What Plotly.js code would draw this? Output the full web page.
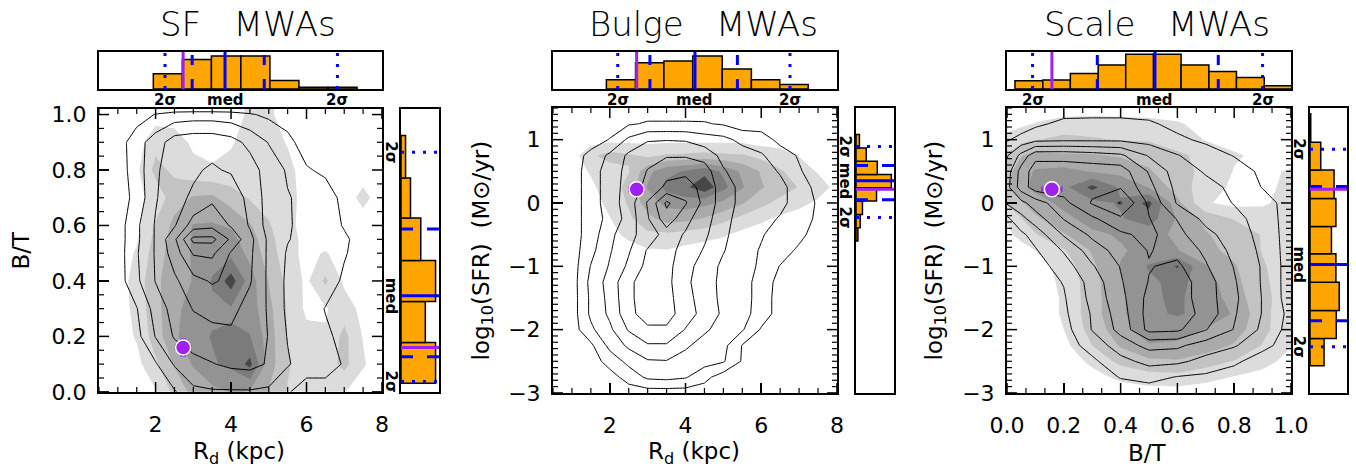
<!DOCTYPE html>
<html><head><meta charset="utf-8">
<script src="https://cdn.plot.ly/plotly-3.0.1.min.js"></script>
<style>html,body{margin:0;padding:0;background:#fff}#chart{width:1356px;height:471px}</style>
</head><body><div id="chart"></div>
<script>
// ---------------- DATA ----------------
const panelTitles = ['SF\u00a0\u00a0\u00a0MWAs', 'Bulge\u00a0\u00a0\u00a0MWAs', 'Scale\u00a0\u00a0\u00a0MWAs'];

// Panel 1 (SF MWAs): B/T vs R_d
const sfX = [0.5,1,1.5,2,2.5,3,3.5,4,4.5,5,5.5,6,6.5,7,7.5,8];
const sfY = [0,0.1,0.2,0.3,0.4,0.5,0.55,0.6,0.7,0.8,0.9,1.0,1.02];
const sfLineZ = [
 [0,0,0,0,0.4,1.3,1.4,1.4,1.4,1.3,0.6,0,0,0,0,0],
 [0,0,0,0.4,1.6,2.2,2.45,2.7,2.8,2.4,1.6,1.0,1.0,0.4,0,0],
 [0,0,0.2,1.55,2.6,3.0,3.2,3.3,3.2,2.45,1.45,1.1,0.7,0.2,0,0],
 [0,0,0.45,1.9,2.9,3.55,3.8,3.8,3.1,2.4,1.3,1.1,0.45,0.1,0,0],
 [0,0,1.3,2.55,3.3,4.2,4.6,4.3,3.6,2.3,1.3,1.2,1.1,0.3,0,0],
 [0,0,1.4,2.6,4.0,5.6,5.7,4.4,3.7,2.3,1.4,1.2,1.1,0.6,0,0],
 [0,0,1.3,2.6,4.3,6.8,6.8,5.3,3.8,2.3,1.55,1.2,1.1,0.7,0,0],
 [0,0,1.3,2.6,3.4,5.0,5.2,4.4,3.4,2.1,1.6,1.2,1.1,0.4,0,0],
 [0,0,0.8,2.4,3.3,3.6,4.3,4.1,3.2,2.1,1.55,1.3,1.0,0.2,0,0],
 [0,0,1.0,2.3,3.2,3.4,3.6,3.4,3.0,2.0,1.4,0.6,0.3,0,0,0],
 [0,0,1.1,2.0,3.0,3.2,3.2,2.9,2.2,1.45,0.8,0,0,0,0,0],
 [0,0,0,0.55,0.9,1.0,1.0,0.9,0.6,0.3,0,0,0,0,0,0],
 [0,0,0,0,0,0,0,0,0,0,0,0,0,0,0,0]
];
const sfFillZ = [
 [0,0,0,0.4,1.8,2.8,3.2,3.55,3.4,2.45,1.45,0.8,0.55,0.55,0,0],
 [0,0,0.2,1.3,2.6,3.6,4.4,4.7,5.8,3.0,1.6,1.0,1.0,1.8,0.6,0],
 [0,0,0.6,2.0,3.3,4.2,4.55,4.6,4.55,3.0,1.45,0.8,0.6,1.8,0.45,0],
 [0,0,0.8,2.2,3.2,4.0,4.3,4.4,4.0,2.8,1.4,0.3,0.4,1.0,0.2,0],
 [0,0,0.9,2.3,3.0,3.55,4.6,6.0,4.0,2.45,1.2,0.3,1.7,0.3,0,0],
 [0,0,0.6,2.0,3.0,3.6,4.0,4.2,3.2,2.0,0.9,0.2,0.6,0,0,0],
 [0,0,0.4,1.8,2.9,3.6,3.8,3.8,3.0,1.8,0.9,0.2,0,0,0,0],
 [0,0,0.2,1.6,2.8,3.55,3.6,3.4,2.6,1.6,0.8,0.1,0,0,0,0],
 [0,0,0.2,0.9,2.0,2.6,2.7,2.0,1.4,1.1,0.8,0.2,0,0,0.8,0],
 [0,0,0.3,1.8,1.3,0.8,0.6,0.8,1.0,1.0,0.7,0.2,0,0,0,0],
 [0,0,0,1.2,1.0,0.3,0.2,0.4,0.9,0.8,0.45,0,0,0,0,0],
 [0,0,0,0,0,0,0,0,0.7,0.7,0,0,0,0,0,0],
 [0,0,0,0,0,0,0,0,0.7,0.7,0,0,0,0,0,0]
];
const sfTopEdges = [1.94,2.71,3.48,4.26,5.03,5.80,6.57,7.34];
const sfTopHeights = [0.41,0.80,0.89,0.89,0.23,0.05,0.05];
const sfRightEdges = [0.031,0.178,0.326,0.474,0.627,0.771,0.924];
const sfRightWidths = [0.91,0.64,0.91,0.52,0.25,0.12];
const sfXStats = [2.25,2.97,3.84,4.88,6.82];     // -2sig, -1sig, median, +1sig, +2sig
const sfYStats = [0.037,0.127,0.347,0.587,0.864];
const sfMW = {x:[2.73], y:[0.16], ex:[0.2], ey:[0.03]};

// Panel 2 (Bulge MWAs): log SFR vs R_d
const buX = [0.5,1,1.5,2,2.5,3,3.5,4,4.5,5,5.5,6,6.5,7,7.5,8];
const buY = [-3,-2.75,-2.5,-2.25,-2,-1.75,-1.5,-1.25,-1,-0.75,-0.5,-0.25,0,0.25,0.5,0.75,1,1.25,1.5];
const buLineZ = [
 [0,0,0,0,0,0,0,0,0,0,0,0,0,0,0,0],
 [0,0,0,0.1,0.9,1.7,1.8,1.6,0.8,0,0,0,0,0,0,0],
 [0,0,0,0.9,1.8,2.4,2.45,2.0,1.9,1.6,0.4,0,0,0,0,0],
 [0,0,0.3,1.8,2.7,3.4,3.4,2.7,2.0,1.8,0.45,0,0,0,0,0],
 [0,0,1.3,2.3,3.6,4.3,4.3,3.45,2.7,2.0,1.6,0.4,0,0,0,0],
 [0,0,1.7,2.7,4.2,5.0,5.0,3.9,3.2,2.3,1.9,1.0,0.1,0,0,0],
 [0,0,1.7,2.8,4.3,5.0,4.9,3.8,3.1,2.2,2.0,1.0,0.1,0,0,0],
 [0,0,1.8,2.9,4.3,5.0,4.8,3.7,3.0,2.2,2.0,1.0,0.2,0,0,0],
 [0,0,1.55,2.6,3.7,4.8,4.8,3.9,3.0,2.3,2.0,1.3,0.45,0,0,0],
 [0,0,1.2,2.4,3.4,4.6,4.8,4.2,3.4,2.55,2.0,1.4,1.0,0.3,0,0],
 [0,0,1.0,2.2,3.3,3.8,5.0,4.4,3.7,2.7,2.0,1.6,1.0,0.8,0,0],
 [0,0,1.0,1.8,2.9,4.4,6.1,4.8,3.9,2.9,2.0,1.9,1.4,1.0,0.3,0],
 [0,0,1.0,2.0,3.0,4.6,6.7,5.6,4.2,3.0,2.2,2.0,1.8,1.0,0.4,0],
 [0,0,1.0,2.0,2.9,3.8,4.7,4.9,4.2,3.0,2.2,2.0,1.8,1.0,0.2,0],
 [0,0,1.0,2.0,2.8,3.55,4.2,4.3,4.0,2.6,2.0,2.0,1.4,0.6,0,0],
 [0,0,0.8,1.7,2.7,3.2,3.4,3.4,3.1,2.2,2.0,1.6,1.0,0.4,0,0],
 [0,0,0,0.55,1.7,2.4,2.45,2.4,2.0,1.8,1.2,1.0,0.2,0,0,0],
 [0,0,0,0,0.4,0.6,0.6,0.6,0.58,0.4,0,0,0,0,0,0],
 [0,0,0,0,0,0,0,0,0,0,0,0,0,0,0,0]
];
const buFillZ = [
 [0,0,0,0,0,0,0,0,0,0,0,0,0,0,0,0],
 [0,0,0,0,0,0,0,0,0,0,0,0,0,0,0,0],
 [0,0,0,0,0,0,0,0,0,0,0,0,0,0,0,0],
 [0,0,0,0,0,0,0,0,0,0,0,0,0,0,0,0],
 [0,0,0,0,0,0,0,0,0,0,0,0,0,0,0,0],
 [0,0,0,0,0,0,0,0,0,0,0,0,0,0,0,0],
 [0,0,0,0,0,0,0,0,0,0,0,0,0,0,0,0],
 [0,0,0,0,0,0,0,0,0,0,0,0,0,0,0,0],
 [0,0,0,0,0,0,0,0,0,0,0,0,0,0,0,0],
 [0,0,0,0,0,0.4,0.45,0.2,0,0,0,0,0,0,0,0],
 [0,0,0,0.1,0.8,1.3,1.3,1.1,0.9,0.6,0.2,0,0,0,0,0],
 [0,0,0,0.45,1.3,2.2,2.9,2.8,2.4,1.8,1.2,0.7,0.3,0,0,0],
 [0,0,0,0.8,1.6,3.0,3.8,4.0,3.8,3.3,2.6,1.8,1.2,0.8,0.3,0],
 [0,0,0.3,1.0,1.8,3.6,4.8,5.3,6.2,4.8,3.6,2.6,2.0,1.45,1.0,0.2],
 [0,0,0.6,1.0,1.45,3.2,4.2,4.6,5.2,4.3,3.3,2.4,1.6,1.1,0.4,0],
 [0,0,1.3,1.9,1.6,1.3,1.6,1.7,1.8,1.7,1.6,1.2,0.9,0.45,0,0],
 [0,0,0,0.2,0.2,0.2,0.2,0.2,0.2,0.2,0.2,0,0,0,0,0],
 [0,0,0,0,0,0,0,0,0,0,0,0,0,0,0,0],
 [0,0,0,0,0,0.55,0,0,0,0,0,0,0,0,0,0]
];
const buTopEdges = [1.91,2.68,3.43,4.19,4.97,5.74,6.49,7.24];
const buTopHeights = [0.25,0.71,0.76,0.89,0.54,0.25,0.12];
const buRightEdges = [-0.6,-0.39,-0.18,0.03,0.24,0.45,0.66,0.87,1.08];
const buRightWidths = [0.05,0.11,0.17,0.54,0.93,0.56,0.27,0.09];
const buXStats = [2.21,3.06,4.25,5.37,6.76];
const buYStats = [-0.23,0.05,0.35,0.59,0.89];
const buMW = {x:[2.71], y:[0.215], ex:[0.2], ey:[0.02]};

// Panel 3 (Scale MWAs): log SFR vs B/T
const scX = [0,0.05,0.1,0.2,0.3,0.4,0.5,0.6,0.7,0.8,0.9,1.0];
const scY = [-3,-2.75,-2.5,-2.25,-2,-1.75,-1.5,-1.25,-1,-0.75,-0.5,-0.25,0,0.25,0.5,0.75,1,1.25,1.5];
const scLineZ = [
 [0,0,0,0,0,0,0,0,0,0,0,0],
 [0,0,0,0,0,0.55,0.8,0.45,0.3,0,0,0],
 [0,0,0,0,0.3,1.2,1.8,1.7,1.2,0.7,0,0],
 [0,0,0,0,0.9,2.0,2.8,2.7,2.0,1.6,0.8,0],
 [0,0,0,0.1,1.55,2.8,4.8,4.7,3.55,2.45,1.3,0.1],
 [0,0,0,0.3,1.6,3.0,4.9,5.0,4.2,2.6,1.45,0.2],
 [0,0,0,0.4,1.8,3.2,4.8,5.0,4.0,2.7,1.45,0],
 [0,0,0,0.55,1.9,3.4,4.55,5.0,4.0,2.6,1.4,0],
 [0,0,0,1.0,2.4,3.55,4.45,4.7,3.6,2.45,1.4,0],
 [0,0,0.4,1.6,3.0,3.9,4.55,4.2,3.3,2.2,1.3,0],
 [0,0.3,0.9,2.6,3.7,4.3,4.8,3.8,2.8,2.0,1.2,0],
 [0.3,1.2,2.0,3.55,4.3,5.3,4.55,3.45,2.2,1.8,1.1,0],
 [1.6,2.2,3.0,4.2,5.6,6.6,4.3,2.4,2.0,1.45,1.0,0],
 [2.2,4.0,5.0,5.0,5.2,5.4,3.8,2.2,1.8,1.3,0.45,0],
 [2.0,3.9,5.0,5.0,5.0,5.0,3.4,2.0,1.4,1.0,0.3,0],
 [1.4,2.8,4.2,4.2,4.0,3.7,2.4,1.55,1.0,0.45,0,0],
 [0.4,0.8,1.2,1.3,1.3,1.3,1.1,0.7,0.3,0,0,0],
 [0,0,0.3,0.75,0.8,0.8,0.65,0.2,0,0,0,0],
 [0,0,0,0,0,0,0,0,0,0,0,0]
];
const scFillZ = [
 [0,0,0,0,0,0,0,0,0,0,0,0],
 [0,0,0,0,0.2,0.7,1.1,1.2,0.8,0.45,0.2,0],
 [0,0,0,0,0.7,1.8,2.3,2.4,2.0,1.45,0.8,0.2],
 [0,0,0,0.2,1.5,2.6,3.4,3.3,3.0,2.4,1.45,0.55],
 [0,0,0,0.5,1.9,3.1,4.1,4.0,3.45,3.0,1.8,0.7],
 [0,0,0,0.6,2.1,3.3,4.3,4.6,4.2,3.4,1.8,0.8],
 [0,0,0,0.6,2.1,3.3,4.4,4.6,4.2,3.0,1.8,0.9],
 [0,0,0,0.7,2.1,3.4,4.3,4.8,4.0,2.8,1.7,0.9],
 [0,0,0,0.9,2.3,3.55,4.6,5.6,3.6,2.6,1.6,0.9],
 [0,0.1,0.5,1.4,2.6,3.4,3.8,3.55,2.8,2.2,1.45,1.0],
 [0.3,0.8,1.4,2.4,3.3,3.6,3.9,3.3,2.6,2.0,1.45,1.2],
 [0.6,1.45,2.3,3.2,3.9,4.4,5.0,3.4,2.2,1.45,1.2,1.3],
 [1.6,2.4,3.0,3.8,4.2,4.6,5.8,2.8,0.6,0.2,0.3,1.0],
 [2.4,3.2,3.8,4.2,5.8,4.3,3.45,2.0,1.0,0.3,0.2,0.8],
 [2.2,3.0,3.6,3.8,3.4,3.2,2.6,1.8,1.3,0.45,0.3,0.6],
 [1.6,2.45,2.8,2.6,2.6,2.4,2.2,1.7,1.2,0.6,0.3,0.1],
 [0.9,1.2,1.45,1.8,1.6,1.45,1.4,1.0,0.45,0.2,0.4,0],
 [0,0.3,0.55,0.9,1.0,0.9,0.8,0.6,0.2,0,0,0],
 [0,0,0,0,0,0,0,0,0,0,0,0]
];
const scTopEdges = [0.028,0.126,0.223,0.321,0.418,0.516,0.613,0.711,0.808,0.906,1.003];
const scTopHeights = [0.22,0.24,0.42,0.65,0.94,0.94,0.65,0.47,0.31,0.09];
const scRightEdges = [-2.57,-2.14,-1.70,-1.25,-0.80,-0.37,0.07,0.52,0.96,1.41];
const scRightWidths = [0.38,0.71,0.79,0.70,0.58,0.70,0.65,0.29,0.02];
const scXStats = [0.09,0.318,0.521,0.744,0.90];
const scYStats = [-2.27,-1.86,-0.97,0.26,0.85];
const scMW = {x:[0.158], y:[0.215], ex:[0.035], ey:[0.02]};

// ---------------- STYLE ----------------
const FONT = 'DejaVu Sans';
const W = 1356, H = 471;
const ORANGE = '#ffa500', BLUE = '#0000ff', PURPLE = '#a020f0';
const grayScale = [[0,'rgba(255,255,255,0)'],[1/6,'#dcdcdc'],[2/6,'#c3c3c3'],[3/6,'#aaaaaa'],[4/6,'#939393'],[5/6,'#7b7b7b'],[1,'#474747']];

function px(x){return x/W;}
function py(y){return 1-y/H;}

const panels = [
  {X:sfX,Y:sfY,line:sfLineZ,fill:sfFillZ,te:sfTopEdges,th:sfTopHeights,re:sfRightEdges,rw:sfRightWidths,xs:sfXStats,ys:sfYStats,mw:sfMW,
   main:[99,382], right:[401,439], ytop:109, ybot:392, xr:[0.5,8.001], yr:[-0.0005,1.02], xd:2, xm:0.5, yd:0.2, ym:0.05, xf:'', yf:'.1f',
   title:panelTitles[0], tx:248, xt:'R<sub>d</sub> (kpc)', xtx:239, yt:'B/T', ytx:20, lab:391},
  {X:buX,Y:buY,line:buLineZ,fill:buFillZ,te:buTopEdges,th:buTopHeights,re:buRightEdges,rw:buRightWidths,xs:buXStats,ys:buYStats,mw:buMW,
   main:[553,837], right:[856,894], ytop:108, ybot:393, xr:[0.5,8.001], yr:[-3.001,1.5], xd:2, xm:0.5, yd:1, ym:0.1, xf:'', yf:'',
   title:panelTitles[1], tx:703, xt:'R<sub>d</sub> (kpc)', xtx:694, yt:'log<sub>10</sub>(SFR)\u00a0\u00a0(M\u2299/yr)', ytx:482, lab:845},
  {X:scX,Y:scY,line:scLineZ,fill:scFillZ,te:scTopEdges,th:scTopHeights,re:scRightEdges,rw:scRightWidths,xs:scXStats,ys:scYStats,mw:scMW,
   main:[1007,1291], right:[1310,1347], ytop:108, ybot:393, xr:[-0.0001,1.0001], yr:[-3.001,1.5], xd:0.2, xm:0.2/3, yd:1, ym:0.1, xf:'.1f', yf:'',
   title:panelTitles[2], tx:1157, xt:'B/T', xtx:1147, yt:'log<sub>10</sub>(SFR)\u00a0\u00a0(M\u2299/yr)', ytx:935, lab:1299}
];

const traces = [];
const layout = {
  width:W, height:H, margin:{l:0,r:0,t:0,b:0}, paper_bgcolor:'#fff', plot_bgcolor:'rgba(0,0,0,0)',
  showlegend:false, barmode:'overlay', annotations:[], shapes:[], font:{family:FONT,color:'#000'}
};

function mainAxis(dom, rng, dt, anchor, fmt, isX){
  return {domain:dom, range:rng, anchor:anchor, showline:true, linecolor:'#000', linewidth:2, mirror:true,
    ticks:'inside', ticklen:10, tickwidth:1.5, tickcolor:'#000', tick0:0, dtick:dt, tickformat:fmt,
    showgrid:false, zeroline:false, tickfont:{family:FONT,size:22,color:'#000'},
    ticklabelstandoff: isX ? 12 : 6, fixedrange:true};
}
function frameAxis(dom, rng, anchor){
  return {domain:dom, range:rng, anchor:anchor, showline:true, linecolor:'#000', linewidth:2, mirror:true,
    ticks:'', showticklabels:false, showgrid:false, zeroline:false, fixedrange:true};
}
// IDL-style inward ticks on all four sides (major + minor), drawn as pixel-sized shapes
function addTicks(xa, ya, xr, yr, xmaj, xmin, ymaj, ymin){
  const S = layout.shapes;
  const isMaj = (v, m) => Math.abs(v/m - Math.round(v/m)) < 1e-6;
  const i0x = Math.ceil(xr[0]/xmin - 1e-6), i1x = Math.floor(xr[1]/xmin + 1e-6);
  for(let i=i0x;i<=i1x;i++){
    const v = i*xmin, L = isMaj(v, xmaj) ? 10 : 5, wd = isMaj(v, xmaj) ? 1.5 : 1.2;
    [[0,L],[1,-L]].forEach(([anc,len]) => S.push({type:'line', xref:xa, yref:ya+' domain', x0:v, x1:v,
      ysizemode:'pixel', yanchor:anc, y0:0, y1:len, line:{color:'#000', width:wd}, layer:'above'}));
  }
  const i0y = Math.ceil(yr[0]/ymin - 1e-6), i1y = Math.floor(yr[1]/ymin + 1e-6);
  for(let i=i0y;i<=i1y;i++){
    const v = i*ymin, L = isMaj(v, ymaj) ? 10 : 5, wd = isMaj(v, ymaj) ? 1.5 : 1.2;
    [[0,L],[1,-L]].forEach(([anc,len]) => S.push({type:'line', xref:xa+' domain', yref:ya, y0:v, y1:v,
      xsizemode:'pixel', xanchor:anc, x0:0, x1:len, line:{color:'#000', width:wd}, layer:'above'}));
  }
}
function vlines(vals, ax, ay, color, dash){
  const x=[], y=[];
  vals.forEach((v,i)=>{ if(i) {x.push(null);y.push(null);} x.push(v,v); y.push(0,1); });
  return {type:'scatter', mode:'lines', x:x, y:y, xaxis:ax, yaxis:ay, line:{color:color,width:3,dash:dash}, hoverinfo:'skip'};
}
function hlines(vals, ax, ay, color, dash){
  const x=[], y=[];
  vals.forEach((v,i)=>{ if(i) {x.push(null);y.push(null);} x.push(0,1); y.push(v,v); });
  return {type:'scatter', mode:'lines', x:x, y:y, xaxis:ax, yaxis:ay, line:{color:color,width:3,dash:dash}, hoverinfo:'skip'};
}

panels.forEach((p, k) => {
  const n = 3*k;
  const axName = (i) => (i===1 ? '' : i);
  const xm = 'x'+axName(n+1), ym = 'y'+axName(n+1);
  const xt = 'x'+(n+2), yt = 'y'+(n+2);
  const xr = 'x'+(n+3), yr = 'y'+(n+3);
  const mainDomX = [px(p.main[0]), px(p.main[1])];
  const mainDomY = [py(p.ybot), py(p.ytop)];
  layout['xaxis'+axName(n+1)] = mainAxis(mainDomX, p.xr, p.xd, ym, p.xf, true);
  layout['yaxis'+axName(n+1)] = mainAxis(mainDomY, p.yr, p.yd, xm, p.yf, false);
  layout['xaxis'+(n+2)] = frameAxis(mainDomX, p.xr, yt);
  layout['yaxis'+(n+2)] = frameAxis([py(89), py(52)], [0,1], xt);
  layout['xaxis'+(n+3)] = frameAxis([px(p.right[0]), px(p.right[1])], [0,1], yr);
  layout['yaxis'+(n+3)] = frameAxis(mainDomY, p.yr, xr);
  addTicks(xm, ym, p.xr, p.yr, p.xd, p.xm, p.yd, p.ym);

  // gray density (filled contours)
  traces.push({type:'contour', x:p.X, y:p.Y, z:p.fill, xaxis:xm, yaxis:ym, autocontour:false,
    contours:{start:0.5, end:5.5, size:1, coloring:'fill', showlines:false},
    colorscale:grayScale, line:{width:0, smoothing:0}, showscale:false, hoverinfo:'skip'});
  // black line contours
  traces.push({type:'contour', x:p.X, y:p.Y, z:p.line, xaxis:xm, yaxis:ym, autocontour:false,
    contours:{start:0.5, end:6.5, size:1, coloring:'none', showlines:true},
    line:{color:'#000', width:1, smoothing:0}, showscale:false, hoverinfo:'skip'});
  // Milky Way point
  traces.push({type:'scatter', mode:'markers', x:p.mw.x, y:p.mw.y, xaxis:xm, yaxis:ym,
    marker:{size:15, color:PURPLE, line:{color:'#fff', width:1.5}},
    error_x:{type:'data', array:p.mw.ex, color:PURPLE, thickness:1.5, width:3},
    error_y:{type:'data', array:p.mw.ey, color:PURPLE, thickness:1.5, width:3}, hoverinfo:'skip'});

  // top histogram
  const tc = [], tw = [];
  for(let i=0;i<p.th.length;i++){ tc.push((p.te[i]+p.te[i+1])/2); tw.push(p.te[i+1]-p.te[i]); }
  traces.push({type:'bar', x:tc, y:p.th, width:tw, xaxis:xt, yaxis:yt,
    marker:{color:ORANGE, line:{color:'#000', width:1.5}}, hoverinfo:'skip'});
  traces.push(vlines([p.xs[0], p.xs[4]], xt, yt, BLUE, '3px,8px'));
  traces.push(vlines([p.xs[1], p.xs[3]], xt, yt, BLUE, '10px,14px'));
  traces.push(vlines([p.xs[2]], xt, yt, BLUE, 'solid'));
  traces.push(vlines(p.mw.x, xt, yt, PURPLE, 'solid'));

  // right histogram
  const rc = [], rh = [];
  for(let i=0;i<p.rw.length;i++){ rc.push((p.re[i]+p.re[i+1])/2); rh.push(p.re[i+1]-p.re[i]); }
  traces.push({type:'bar', orientation:'h', y:rc, x:p.rw, width:rh, xaxis:xr, yaxis:yr,
    marker:{color:ORANGE, line:{color:'#000', width:1.5}}, hoverinfo:'skip'});
  traces.push(hlines([p.ys[0], p.ys[4]], xr, yr, BLUE, '3px,8px'));
  traces.push(hlines([p.ys[1], p.ys[3]], xr, yr, BLUE, '12px,14px'));
  traces.push(hlines([p.ys[2]], xr, yr, BLUE, 'solid'));
  traces.push(hlines(p.mw.y, xr, yr, PURPLE, 'solid'));

  // annotations
  const A = layout.annotations;
  A.push({text:p.title, xref:'paper', yref:'paper', x:px(p.tx), y:py(24), xanchor:'center', yanchor:'middle',
    showarrow:false, font:{family:FONT, size:34, color:'#000', weight:200}});
  A.push({text:p.xt, xref:'paper', yref:'paper', x:px(p.xtx), y:py(453), xanchor:'center', yanchor:'middle',
    showarrow:false, font:{family:FONT, size:23, color:'#000'}});
  A.push({text:p.yt, xref:'paper', yref:'paper', x:px(p.ytx), y:py((p.ytop+p.ybot)/2), xanchor:'center', yanchor:'middle',
    textangle:-90, showarrow:false, font:{family:FONT, size:23, color:'#000'}});
  [[p.xs[0],'2\u03c3'],[p.xs[2],'med'],[p.xs[4],'2\u03c3']].forEach(([v,t]) => {
    A.push({text:t, xref:xt, yref:'paper', x:v, y:py(100), xanchor:'center', yanchor:'middle', showarrow:false,
      font:{family:FONT, size:15, color:'#000', weight:'bold'}});
  });
  [[p.ys[4],'2\u03c3'],[p.ys[2],'med'],[p.ys[0],'2\u03c3']].forEach(([v,t]) => {
    A.push({text:t, xref:'paper', yref:yr, x:px(p.lab), y:v, xanchor:'center', yanchor:'middle', textangle:90, showarrow:false,
      font:{family:FONT, size:15, color:'#000', weight:'bold'}});
  });
});

Plotly.newPlot('chart', traces, layout, {staticPlot:true, displayModeBar:false});
</script></body></html>
